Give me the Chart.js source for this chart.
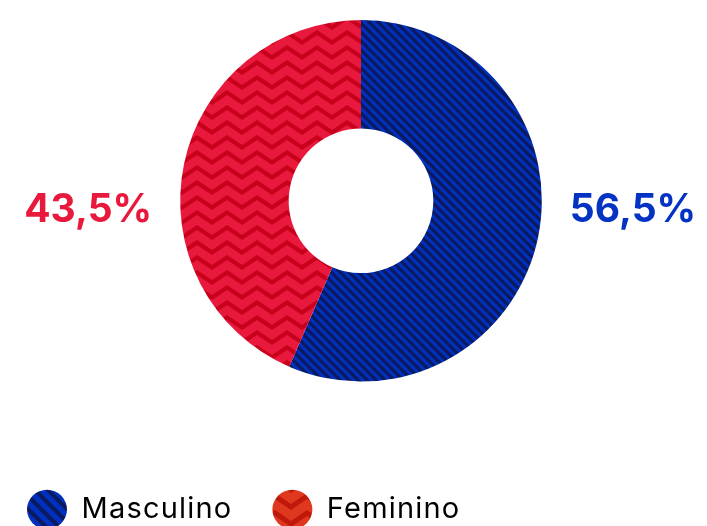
<!DOCTYPE html>
<html>
<head>
<meta charset="utf-8">
<script src="https://cdn.jsdelivr.net/npm/chart.js@4.4.1/dist/chart.umd.min.js"></script>
<style>
  html, body { margin: 0; padding: 0; background: #fff; overflow: hidden; }
  #wrap { width: 707px; height: 526px; overflow: hidden; position: relative; }
  canvas { position: absolute; left: -13px; top: 0; }
</style>
</head>
<body>
<div id="wrap"><canvas id="chart" width="748" height="534"></canvas></div>
<script>
const categories = ['Masculino', 'Feminino'];
const values = [56.5, 43.5];
const labelColors = ['#0433c4', '#e8193c'];

// striped blue / zigzag red fills
function stripes(size, base, line, width) {
    const c = document.createElement('canvas');
    c.width = size; c.height = size;
    const g = c.getContext('2d');
    g.fillStyle = base;
    g.fillRect(0, 0, size, size);
    g.strokeStyle = line;
    g.lineWidth = width;
    g.beginPath();
    for (let k = -1; k <= 1; k++) {
        g.moveTo(k * size - 1, -1);
        g.lineTo(k * size + size + 1, size + 1);
    }
    g.stroke();
    return g.createPattern(c, 'repeat');
}

function zigzag(w, h, amp, base, line, width) {
    const c = document.createElement('canvas');
    c.width = w; c.height = h;
    const g = c.getContext('2d');
    g.fillStyle = base;
    g.fillRect(0, 0, w, h);
    g.strokeStyle = line;
    g.lineWidth = width;
    for (let k = -1; k <= 1; k++) {
        const y0 = h / 2 + k * h;
        g.beginPath();
        g.moveTo(-w / 2, y0 + amp / 2);
        g.lineTo(0, y0 - amp / 2);
        g.lineTo(w / 2, y0 + amp / 2);
        g.lineTo(w, y0 - amp / 2);
        g.lineTo(w * 1.5, y0 + amp / 2);
        g.stroke();
    }
    return g.createPattern(c, 'repeat');
}

const ctx = document.getElementById('chart').getContext('2d');
const bluePattern = stripes(9, '#0030bd', '#0a1a5e', 3.2);
const redPattern = zigzag(30, 15, 10, '#e8193c', '#c8001c', 4);
const blueLegend = stripes(13, '#0030bd', '#0a1a5e', 4);
const redLegend = zigzag(32, 17, 11, '#e0381e', '#c0180c', 5);

// legend text is a bit wider in the original
const spacing = {
    id: 'spacing',
    beforeLayout(chart) { chart.ctx.letterSpacing = '1.2px'; },
    beforeDraw(chart) { chart.ctx.letterSpacing = '1.2px'; }
};

const sideLabels = {
    id: 'sideLabels',
    afterDatasetsDraw(chart) {
        const meta = chart.getDatasetMeta(0);
        const c = chart.ctx;
        c.save();
        c.letterSpacing = '0px';
        c.font = '700 39px Inter';
        c.textBaseline = 'alphabetic';
        meta.data.forEach((arc, i) => {
            const p = arc.getProps(['x', 'y', 'outerRadius', 'startAngle', 'endAngle'], true);
            const mid = (p.startAngle + p.endAngle) / 2;
            const side = Math.cos(mid) >= 0 ? 1 : -1;
            c.fillStyle = labelColors[i];
            c.textAlign = side > 0 ? 'left' : 'right';
            c.fillText(values[i].toFixed(1).replace('.', ',') + '%', p.x + side * (p.outerRadius + 28), p.y + 21);
        });
        c.restore();
    }
};

new Chart(ctx, {
    type: 'doughnut',
    data: {
        labels: categories,
        datasets: [{
            data: values,
            backgroundColor: [bluePattern, redPattern],
            borderWidth: 0
        }]
    },
    options: {
        responsive: false,
        animation: false,
        cutout: '40%',
        layout: { padding: { top: 20, bottom: 0, left: 0, right: 0 } },
        plugins: {
            tooltip: { enabled: false },
            legend: {
                position: 'bottom',
                align: 'start',
                title: { display: true, text: '', padding: { top: 0, bottom: 59 }, font: { size: 12 } },
                labels: {
                    usePointStyle: true,
                    pointStyleWidth: 40,
                    boxHeight: 28,
                    padding: 40,
                    color: '#000',
                    font: { family: 'Inter', size: 29, weight: '400' },
                    generateLabels: () => categories.map((name, i) => ({
                        text: name,
                        fillStyle: i === 0 ? blueLegend : redLegend,
                        strokeStyle: 'rgba(0,0,0,0)',
                        fontColor: '#000',
                        lineWidth: 0,
                        pointStyle: 'circle',
                        hidden: false,
                        index: i
                    }))
                }
            }
        }
    },
    plugins: [spacing, sideLabels]
});
</script>
</body>
</html>
